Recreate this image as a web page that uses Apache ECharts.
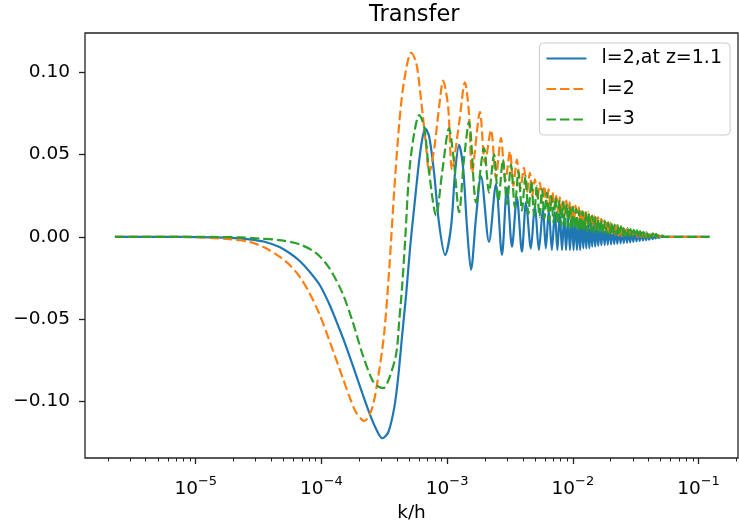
<!DOCTYPE html>
<html>
<head>
<meta charset="utf-8">
<title>Transfer</title>
<style>html,body{margin:0;padding:0;background:#fff;} #main{width:739px;height:521px;}</style>
</head>
<body>
<div id="main"></div>
<script src="https://cdn.jsdelivr.net/npm/echarts@6/dist/echarts.min.js"></script>
<script>
// each point is [log10(k/h), transfer]
var blueLine = [[-5.643,0],[-5.286,0],[-4.968,-0.0002],[-4.731,-0.0006],[-4.572,-0.0015],[-4.453,-0.003],[-4.334,-0.0062],[-4.254,-0.0098],[-4.175,-0.0145],[-4.096,-0.021],[-4.016,-0.029],[-3.937,-0.041],[-3.857,-0.056],[-3.802,-0.067],[-3.738,-0.081],[-3.675,-0.095],[-3.619,-0.107],[-3.564,-0.117],[-3.516,-0.1225],[-3.469,-0.119],[-3.421,-0.104],[-3.389,-0.085],[-3.358,-0.060],[-3.326,-0.035],[-3.294,-0.006],[-3.262,0.018],[-3.223,0.046],[-3.199,0.059],[-3.175,0.066],[-3.143,0.061],[-3.104,0.039],[-3.064,0.008],[-3.016,-0.011],[-2.969,0.006],[-2.937,0.039],[-2.905,0.056],[-2.873,0.042],[-2.842,0.006],[-2.810,-0.020],[-2.770,0.012],[-2.731,0.037],[-2.667,-0.003],[-2.612,0.032],[-2.564,-0.011],[-2.524,0.030],[-2.484,-0.006],[-2.445,0.024],[-2.405,-0.009],[-2.373,0.021],[-2.334,-0.007],[-2.302,0.019],[-2.270,-0.008],[-2.238,0.017],[-2.215,-0.007],[-2.191,0.016],[-2.167,-0.008],[-2.143,0.015],[-2.123,-0.008],[-2.104,0.014],[-2.086,-0.008],[-2.069,0.013],[-2.054,-0.008],[-2.038,0.012],[-2.023,-0.008],[-2.008,0.012],[-1.994,-0.008],[-1.981,0.011],[-1.967,-0.008],[-1.954,0.010],[-1.942,-0.008],[-1.929,0.010],[-1.917,-0.007],[-1.905,0.009],[-1.893,-0.007],[-1.881,0.009],[-1.869,-0.007],[-1.857,0.008],[-1.846,-0.006],[-1.834,0.008],[-1.822,-0.006],[-1.810,0.007],[-1.798,-0.0055],[-1.785,0.007],[-1.773,-0.005],[-1.760,0.0065],[-1.747,-0.005],[-1.734,0.006],[-1.722,-0.0048],[-1.709,0.0058],[-1.696,-0.0046],[-1.684,0.0055],[-1.671,-0.0044],[-1.658,0.005],[-1.646,-0.0042],[-1.633,0.0047],[-1.620,-0.004],[-1.607,0.0044],[-1.595,-0.0038],[-1.582,0.004],[-1.569,-0.0035],[-1.557,0.0037],[-1.544,-0.0033],[-1.531,0.0034],[-1.519,-0.003],[-1.506,0.003],[-1.493,-0.0028],[-1.480,0.0027],[-1.468,-0.0025],[-1.455,0.0024],[-1.442,-0.0022],[-1.430,0.0021],[-1.417,-0.002],[-1.404,0.0018],[-1.392,-0.0017],[-1.379,0.0015],[-1.366,-0.0014],[-1.353,0.0012],[-1.341,-0.001],[-1.328,0.0008],[-1.315,-0.0006],[-1.302,0],[-0.913,0]];

var orangeLine = [[-5.643,0],[-5.127,0],[-4.889,-0.0006],[-4.731,-0.0014],[-4.572,-0.003],[-4.453,-0.0065],[-4.334,-0.012],[-4.254,-0.017],[-4.175,-0.024],[-4.096,-0.034],[-4.016,-0.047],[-3.937,-0.063],[-3.834,-0.085],[-3.778,-0.097],[-3.723,-0.107],[-3.659,-0.112],[-3.596,-0.104],[-3.540,-0.081],[-3.500,-0.058],[-3.461,-0.020],[-3.421,0.028],[-3.381,0.069],[-3.342,0.095],[-3.286,0.112],[-3.246,0.106],[-3.207,0.083],[-3.167,0.055],[-3.143,0.039],[-3.104,0.053],[-3.064,0.079],[-3.032,0.095],[-2.992,0.079],[-2.961,0.041],[-2.905,0.069],[-2.858,0.094],[-2.826,0.075],[-2.802,0.039],[-2.739,0.076],[-2.699,0.045],[-2.651,0.065],[-2.612,0.036],[-2.572,0.060],[-2.536,0.034],[-2.500,0.052],[-2.473,0.031],[-2.445,0.047],[-2.417,0.029],[-2.389,0.042],[-2.365,0.027],[-2.342,0.039],[-2.322,0.025],[-2.302,0.035],[-2.282,0.023],[-2.262,0.033],[-2.244,0.021],[-2.227,0.031],[-2.210,0.019],[-2.193,0.029],[-2.177,0.018],[-2.162,0.027],[-2.146,0.017],[-2.131,0.025],[-2.117,0.015],[-2.104,0.024],[-2.090,0.014],[-2.077,0.023],[-2.064,0.013],[-2.051,0.022],[-2.038,0.012],[-2.026,0.021],[-2.014,0.011],[-2.002,0.020],[-1.990,0.010],[-1.978,0.019],[-1.965,0.009],[-1.953,0.018],[-1.940,0.008],[-1.927,0.017],[-1.915,0.008],[-1.902,0.016],[-1.889,0.007],[-1.877,0.015],[-1.864,0.007],[-1.851,0.014],[-1.838,0.006],[-1.826,0.013],[-1.813,0.005],[-1.800,0.012],[-1.788,0.004],[-1.775,0.011],[-1.762,0.0035],[-1.750,0.0100],[-1.737,0.003],[-1.724,0.0092],[-1.711,0.0025],[-1.699,0.0085],[-1.686,0.002],[-1.673,0.0078],[-1.661,0.0012],[-1.648,0.007],[-1.635,0.0008],[-1.623,0.0062],[-1.610,0.0005],[-1.597,0.0055],[-1.584,0.0003],[-1.572,0.0048],[-1.559,0.0002],[-1.546,0.0042],[-1.534,0],[-1.521,0.0036],[-1.508,0],[-1.496,0.0031],[-1.483,-0.0001],[-1.470,0.0027],[-1.457,-0.0002],[-1.445,0.0024],[-1.432,-0.0002],[-1.419,0.0021],[-1.407,-0.0002],[-1.394,0.0019],[-1.381,-0.0002],[-1.368,0.0016],[-1.356,-0.0001],[-1.343,0.0013],[-1.330,0],[-1.318,0.001],[-1.305,0],[-1.292,0.0007],[-1.278,0],[-0.913,0]];

var greenLine = [[-5.643,0],[-4.968,0],[-4.651,-0.0003],[-4.492,-0.001],[-4.334,-0.002],[-4.175,-0.0045],[-4.040,-0.010],[-3.937,-0.019],[-3.834,-0.034],[-3.754,-0.051],[-3.675,-0.071],[-3.596,-0.087],[-3.548,-0.091],[-3.508,-0.092],[-3.461,-0.086],[-3.405,-0.071],[-3.381,-0.051],[-3.358,-0.030],[-3.334,-0.002],[-3.302,0.039],[-3.262,0.063],[-3.223,0.074],[-3.183,0.067],[-3.143,0.039],[-3.088,0.013],[-3.040,0.039],[-2.985,0.066],[-2.945,0.045],[-2.905,0.015],[-2.865,0.048],[-2.826,0.070],[-2.770,0.021],[-2.707,0.054],[-2.667,0.027],[-2.627,0.050],[-2.592,0.022],[-2.556,0.047],[-2.524,0.020],[-2.492,0.044],[-2.461,0.018],[-2.433,0.040],[-2.405,0.016],[-2.377,0.037],[-2.354,0.014],[-2.330,0.034],[-2.308,0.013],[-2.286,0.031],[-2.265,0.012],[-2.245,0.029],[-2.226,0.011],[-2.207,0.027],[-2.188,0.010],[-2.171,0.025],[-2.154,0.009],[-2.138,0.024],[-2.122,0.008],[-2.107,0.022],[-2.092,0.007],[-2.077,0.021],[-2.063,0.006],[-2.050,0.020],[-2.036,0.006],[-2.023,0.019],[-2.011,0.005],[-1.998,0.018],[-1.985,0.005],[-1.973,0.017],[-1.960,0.004],[-1.947,0.016],[-1.935,0.004],[-1.922,0.0155],[-1.909,0.0038],[-1.896,0.0147],[-1.884,0.0035],[-1.871,0.014],[-1.858,0.0033],[-1.846,0.013],[-1.833,0.003],[-1.820,0.012],[-1.808,0.0028],[-1.795,0.011],[-1.782,0.0025],[-1.769,0.0102],[-1.757,0.0022],[-1.744,0.0095],[-1.731,0.002],[-1.719,0.0088],[-1.706,0.0018],[-1.693,0.0082],[-1.681,0.0015],[-1.668,0.0075],[-1.655,0.0012],[-1.643,0.007],[-1.630,0.001],[-1.617,0.0064],[-1.604,0.0008],[-1.592,0.0058],[-1.579,0.0006],[-1.566,0.0053],[-1.554,0.0004],[-1.541,0.0048],[-1.528,0.0002],[-1.515,0.0043],[-1.503,0],[-1.490,0.0039],[-1.477,-0.0002],[-1.465,0.0035],[-1.452,-0.0003],[-1.439,0.0031],[-1.427,-0.0004],[-1.414,0.0028],[-1.401,-0.0005],[-1.388,0.0025],[-1.376,-0.0005],[-1.363,0.0022],[-1.350,-0.0004],[-1.338,0.0019],[-1.325,-0.0003],[-1.312,0.0015],[-1.300,0],[-1.286,0.0008],[-1.271,0],[-0.913,0]];

var seriesNames = ['l=2,at z=1.1', 'l=2', 'l=3'];
var seriesColors = ['#1f77b4', '#ff7f0e', '#2ca02c'];
var xTickExps = [-5, -4, -3, -2, -1];   // 10^n labels
var yTicks = [-0.10, -0.05, 0, 0.05, 0.10];
var xMin = -5.881, xMax = -0.686;

// minor ticks of the log axis: 2..9 x 10^n
var minorTicks = [];
for (var n = -6; n <= -1; n++) {
    for (var m = 2; m <= 9; m++) {
        var v = n + Math.log10(m);
        if (v > xMin && v < xMax) minorTicks.push(v);
    }
}

var font = 'DejaVu Sans';
var myChart = echarts.init(document.getElementById('main'));

var dash = [9.5, 4];
function makeSeries(i, data, dashed) {
    return {
        name: seriesNames[i],
        type: 'line',
        data: data,
        symbol: 'none',
        showSymbol: false,
        smooth: 0.3,
        lineStyle: { color: seriesColors[i], width: 2.2, type: dashed ? dash : 'solid' },
        itemStyle: { color: seriesColors[i] }
    };
}

var option = {
    animation: false,
    backgroundColor: '#fff',
    title: {
        text: 'Transfer',
        left: 369,
        top: 4,
        padding: 0,
        textStyle: { fontFamily: font, fontSize: 22.5, fontWeight: 'normal', color: '#000' }
    },
    legend: {
        data: seriesNames,
        orient: 'vertical',
        right: 9,
        top: 43,
        padding: [6, 8, 6, 6],
        itemGap: 11.5,
        itemWidth: 40,
        itemHeight: 14,
        backgroundColor: '#fff',
        borderColor: '#cccccc',
        borderWidth: 1,
        borderRadius: 4,
        itemStyle: { opacity: 0 },
        textStyle: { fontFamily: font, fontSize: 19, color: '#000', padding: [0, 0, 0, 10] }
    },
    grid: {
        left: 85, top: 33, width: 653, height: 425,
        outerBoundsMode: 'none',
        containLabel: false,
        show: true, borderColor: '#222', borderWidth: 1.3, backgroundColor: 'transparent'
    },
    xAxis: [{
        type: 'value',
        min: xMin, max: xMax,
        name: 'k/h',
        nameLocation: 'middle',
        nameGap: 28,
        nameTextStyle: { fontFamily: font, fontSize: 18.5, color: '#000' },
        axisLine: { show: false, onZero: false },
        splitLine: { show: false },
        axisTick: { show: true, inside: false, length: 6, customValues: xTickExps, lineStyle: { color: '#222', width: 1.3 } },
        axisLabel: {
            customValues: xTickExps,
            margin: 17,
            formatter: function (v) { return '{n|10}{e|\u2212' + Math.abs(Math.round(v)) + '}'; },
            rich: {
                n: { fontFamily: font, fontSize: 18.5, color: '#000', lineHeight: 24, verticalAlign: 'bottom' },
                e: { fontFamily: font, fontSize: 13, color: '#000', lineHeight: 14, verticalAlign: 'top' }
            }
        }
    }, {
        type: 'value',
        min: xMin, max: xMax,
        position: 'bottom',
        axisLine: { show: false, onZero: false },
        splitLine: { show: false },
        axisLabel: { show: false },
        axisTick: { show: true, inside: false, length: 3.5, customValues: minorTicks, lineStyle: { color: '#222', width: 1 } }
    }],
    yAxis: {
        type: 'value',
        min: -0.1345, max: 0.124,
        axisLine: { show: false, onZero: false },
        splitLine: { show: false },
        axisTick: { show: true, inside: false, length: 6, customValues: yTicks, lineStyle: { color: '#222', width: 1.3 } },
        axisLabel: {
            customValues: yTicks,
            margin: 15,
            fontFamily: font, fontSize: 18.5, color: '#000',
            formatter: function (v) { return v.toFixed(2).replace('-', '\u2212'); }
        }
    },
    series: [
        makeSeries(0, blueLine, false),
        makeSeries(1, orangeLine, true),
        makeSeries(2, greenLine, true)
    ]
};
myChart.setOption(option);
</script>
</body>
</html>
